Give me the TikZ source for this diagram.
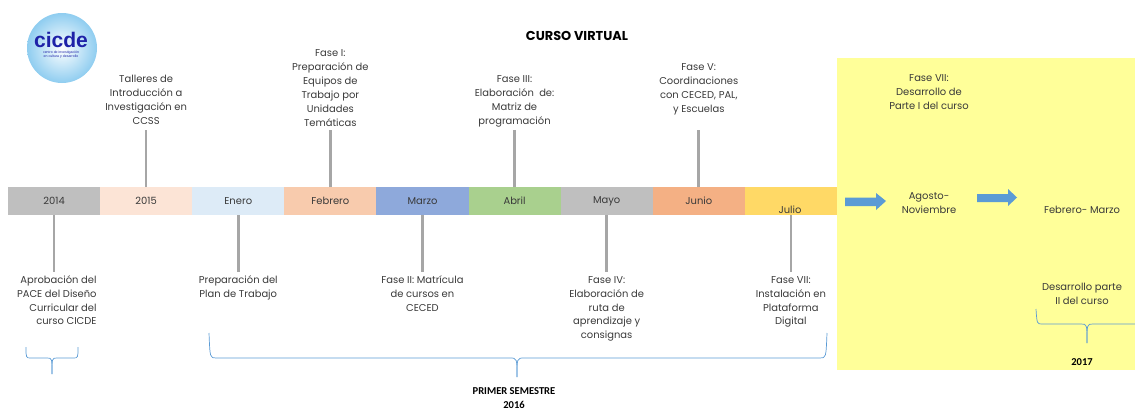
\documentclass[tikz,border=0pt]{standalone}
\usepackage{fontspec}
\usepackage{xcolor}
\usepackage{tikz}
\usetikzlibrary{positioning}
\setmainfont{Poppins}
\newfontfamily\calfont{Carlito}
\newfontfamily\logofont{Liberation Sans}
\definecolor{cgris}{HTML}{BFBFBF}
\definecolor{cquince}{HTML}{FCE4D6}
\definecolor{cenero}{HTML}{DDEBF7}
\definecolor{cfebrero}{HTML}{F8CBAD}
\definecolor{cmarzo}{HTML}{8EA9DB}
\definecolor{cabril}{HTML}{A9D08E}
\definecolor{cjunio}{HTML}{F4B084}
\definecolor{cjulio}{HTML}{FFD966}
\definecolor{camarillo}{HTML}{FFFF99}
\definecolor{cflecha}{HTML}{5B9BD5}
\definecolor{cllave}{HTML}{5B9BD5}
\definecolor{clinea}{HTML}{A6A6A6}
\definecolor{ctexto}{HTML}{3A3A3A}
\definecolor{clogo}{HTML}{1E22A8}
\definecolor{cglobo}{HTML}{8FCDF0}

\begin{document}
\begin{tikzpicture}[x=0.03cm,y=-0.03cm,
	every node/.style={text=ctexto},
	seg/.style={minimum width=2.763cm, minimum height=0.84cm, inner sep=0pt, outer sep=0pt, font=\fontsize{8.5}{11.9}\selectfont},
	lbl/.style={align=center, inner sep=1pt, font=\fontsize{8.5}{11.9}\selectfont},
	conn/.style={draw=clinea, line width=2.2pt},
	brc/.style={draw=cllave, line width=0.6pt},
	bold/.style={align=center, inner sep=1pt, text=black, font=\calfont\bfseries\fontsize{9}{12}\selectfont}]
		\useasboundingbox (0,0) rectangle (1135,410);
		\fill[camarillo] (837,58) rectangle (1135,370);
		\shade[inner color=white, outer color=cglobo] (62,48) circle (35);
		\node[text=clogo, font=\logofont\bfseries\fontsize{18}{18}\selectfont, inner sep=0pt] (logo) at (61,40) {cicde};
		\node[text=clogo, font=\logofont\fontsize{3}{3.6}\selectfont, align=center, inner sep=0pt, below=2.5pt of logo] (logosub) {centro de investigaci\'on\\en cultura y desarrollo};
		\node[text=black, font=\bfseries\fontsize{11}{13}\selectfont] (titulo) at (577,36) {CURSO VIRTUAL};
		\node[seg, fill=cgris] (s2014) at (54.05,201) {2014};
		\node[seg, fill=cquince, right=0pt of s2014] (s2015) {2015};
		\node[seg, fill=cenero, right=0pt of s2015] (senero) {Enero};
		\node[seg, fill=cfebrero, right=0pt of senero] (sfebrero) {Febrero};
		\node[seg, fill=cmarzo, right=0pt of sfebrero] (smarzo) {Marzo};
		\node[seg, fill=cabril, right=0pt of smarzo] (sabril) {Abril};
		\node[seg, fill=cgris, right=0pt of sabril] (smayo) {Mayo};
		\node[seg, fill=cjunio, right=0pt of smayo] (sjunio) {Junio};
		\node[seg, fill=cjulio, right=0pt of sjunio] (sjulio) {};
		\node[lbl] (tjulio) at (790,210) {Julio};
		\node[lbl, anchor=south] (t2015) at (s2015.north |- 0,130) {Talleres de\\Introducci\'on a\\Investigaci\'on en\\CCSS\strut};
		\node[lbl, anchor=south] (tfebrero) at (sfebrero.north |- 0,132) {Fase I:\\Preparaci\'on de\\Equipos de\\Trabajo por\\Unidades\\Tem\'aticas\strut};
		\node[lbl, anchor=south] (tabril) at (sabril.north |- 0,130) {Fase III:\\Elaboraci\'on\ \ de:\\Matriz de\\programaci\'on\strut};
		\node[lbl, anchor=south] (tjunio) at (sjunio.north |- 0,118) {Fase V:\\Coordinaciones\\con CECED, PAL,\\y Escuelas\strut};
		\node[lbl, anchor=north] (tfase7) at (929,70) {\strut Fase VII:\\Desarrollo de\\Parte I del curso};
		\node[lbl, anchor=north east, align=right] (t2014) at (98,272) {\strut Aprobaci\'on del\\PACE del Dise\~no\\Curricular del\\curso CICDE};
		\node[lbl, anchor=north] (tenero) at (senero.south |- 0,272) {\strut Preparaci\'on del\\Plan de Trabajo};
		\node[lbl, anchor=north] (tmarzo) at (smarzo.south |- 0,272) {\strut Fase II: Matr\'icula\\de cursos en\\CECED};
		\node[lbl, anchor=north] (tmayo) at (smayo.south |- 0,272) {\strut Fase IV:\\Elaboraci\'on de\\ruta de\\aprendizaje y\\consignas};
		\node[lbl, anchor=north] (tjul) at (sjulio.south |- 0,272) {\strut Fase VII:\\Instalaci\'on en\\Plataforma\\Digital};
		\node[lbl, anchor=north] (tagosto) at (929,188) {\strut Agosto-\\Noviembre};
		\node[lbl, anchor=north] (tfebmar) at (1082,202) {\strut Febrero- Marzo};
		\node[lbl, anchor=north] (tdesarrollo) at (1082,279) {\strut Desarrollo parte\\II del curso};
		\node[bold, anchor=north] (semestre) at (514,386) {PRIMER SEMESTRE\\2016};
		\node[bold, anchor=north] (anio) at (1082,357) {2017};
		\draw[conn] (s2015.north) -- (t2015.south);
		\draw[conn] (sfebrero.north) -- (sfebrero.north |- t2015.south);
		\draw[conn] (sabril.north) -- (tabril.south);
		\draw[conn] (sjunio.north) -- (sjunio.north |- t2015.south);
		\draw[conn] (s2014.south) -- (s2014.south |- t2014.north);
		\draw[conn] (senero.south) -- (tenero.north);
		\draw[conn] (smarzo.south) -- (tmarzo.north);
		\draw[conn] (smayo.south) -- (tmayo.north);
		\draw[conn] (sjulio.south) -- (tjul.north);
		\fill[cflecha] (845,197.5) -- (876,197.5) -- (876,193) -- (886,201) -- (876,210) -- (876,206) -- (845,206) -- cycle;
		\fill[cflecha] (977,194) -- (1008,194) -- (1008,189) -- (1017,197.5) -- (1008,206) -- (1008,202) -- (977,202) -- cycle;
		\draw[brc] (26,347) .. controls (26,358) .. (31,358) -- (47,358) .. controls (52,358) .. (52,374);
		\draw[brc] (78,347) .. controls (78,358) .. (73,358) -- (57,358) .. controls (52,358) .. (52,374);
		\draw[brc] (209,333) .. controls (210,358) .. (216,358) -- (510,358) .. controls (517,358) .. (517,377);
		\draw[brc] (827,333) .. controls (826,358) .. (820,358) -- (524,358) .. controls (517,358) .. (517,377);
		\draw[brc] (1036,309) .. controls (1037,324) .. (1042,324) -- (1081,324) .. controls (1087,324) .. (1087,343);
		\draw[brc] (1140,309) .. controls (1139,324) .. (1134,324) -- (1093,324) .. controls (1087,324) .. (1087,343);
\end{tikzpicture}
\end{document}
